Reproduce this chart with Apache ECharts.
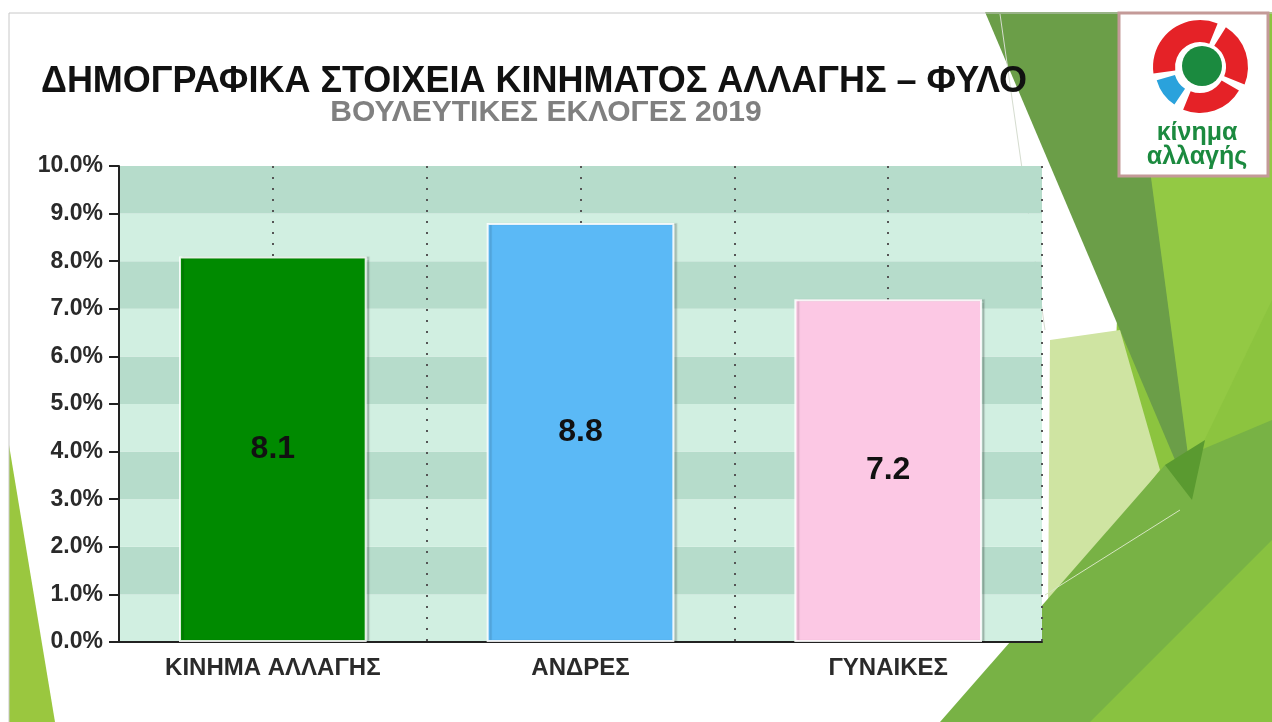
<!DOCTYPE html>
<html>
<head>
<meta charset="utf-8">
<script src="https://cdn.jsdelivr.net/npm/echarts@6/dist/echarts.min.js"></script>
<style>
  html, body { margin: 0; padding: 0; background: #fff; }
  #main { width: 1272px; height: 722px; }
</style>
</head>
<body>
<div id="main"></div>
<script>
var categories = ['ΚΙΝΗΜΑ ΑΛΛΑΓΗΣ', 'ΑΝΔΡΕΣ', 'ΓΥΝΑΙΚΕΣ'];
var values = [8.1, 8.8, 7.2];
var barColors = ['#008a00', '#5bb9f6', '#fcc8e4'];

var titleText = 'ΔΗΜΟΓΡΑΦΙΚΑ ΣΤΟΙΧΕΙΑ ΚΙΝΗΜΑΤΟΣ ΑΛΛΑΓΗΣ – ΦΥΛΟ';
var subtitleText = 'ΒΟΥΛΕΥΤΙΚΕΣ ΕΚΛΟΓΕΣ 2019';

var font = "'Liberation Sans', Arial, sans-serif";
var myChart = echarts.init(document.getElementById('main'));

var deg = Math.PI / 180;

// slide decoration: green triangles, frame and party logo
var deco = [
    { type: 'polygon', z: -5, shape: { points: [[1130, 12], [1272, 12], [1272, 722], [1100, 722]] }, style: { fill: '#8cc43f' } },
    { type: 'polygon', z: -4, shape: { points: [[985, 12], [1165, 12], [1192, 500]] }, style: { fill: '#6b9e48' } },
    { type: 'polygon', z: -4, shape: { points: [[1150, 170], [1272, 120], [1272, 300], [1190, 470]] }, style: { fill: '#93c944' } },
    { type: 'polygon', z: -3, shape: { points: [[1050, 340], [1120, 330], [1160, 470], [1048, 612]] }, style: { fill: '#cfe4a2' } },
    { type: 'polygon', z: -2, shape: { points: [[940, 722], [1165, 465], [1272, 420], [1272, 722]] }, style: { fill: '#78b245' } },
    { type: 'polygon', z: -2, shape: { points: [[1165, 465], [1192, 500], [1205, 440]] }, style: { fill: '#5a9a30' } },
    { type: 'polygon', z: -1, shape: { points: [[1090, 722], [1272, 540], [1272, 722]] }, style: { fill: '#8cc43f', opacity: 0.85 } },
    { type: 'polygon', z: -1, shape: { points: [[9, 445], [9, 722], [55, 722]] }, style: { fill: '#9ac73f' } },
    { type: 'line', z: -1, shape: { x1: 1000, y1: 14, x2: 1045, y2: 330 }, style: { stroke: '#d5dccf', lineWidth: 1 } },
    { type: 'line', z: -1, shape: { x1: 1045, y1: 595, x2: 1180, y2: 510 }, style: { stroke: '#d6e6c0', lineWidth: 1 } },
    { type: 'rect', z: -1, shape: { x: 9, y: 13, width: 1270, height: 720 }, style: { fill: null, stroke: '#c8c8c8', lineWidth: 1 } },

    { type: 'rect', z: 20, shape: { x: 1119, y: 13, width: 149, height: 163 }, style: { fill: '#fff', stroke: '#c49a98', lineWidth: 3 } },
    { type: 'sector', z: 21, shape: { cx: 1200, cy: 67, r0: 25, r: 47, startAngle: 172 * deg, endAngle: 292 * deg }, style: { fill: '#e52227' } },
    { type: 'sector', z: 21, shape: { cx: 1201, cy: 67, r0: 25, r: 47, startAngle: 302 * deg, endAngle: 382 * deg }, style: { fill: '#e52227' } },
    { type: 'sector', z: 21, shape: { cx: 1200, cy: 68, r0: 25, r: 45, startAngle: 30 * deg, endAngle: 112 * deg }, style: { fill: '#e52227' } },
    { type: 'sector', z: 21, shape: { cx: 1199, cy: 68, r0: 25, r: 44, startAngle: 124 * deg, endAngle: 164 * deg }, style: { fill: '#2aa2dc' } },
    { type: 'circle', z: 22, shape: { cx: 1202, cy: 66, r: 20 }, style: { fill: '#1b8a3f' } },
    { type: 'text', z: 22, style: { x: 1197, y: 133, text: 'κίνημα', fill: '#1b8a3f', font: 'bold 25px ' + font, textAlign: 'center', textVerticalAlign: 'middle' } },
    { type: 'text', z: 22, style: { x: 1197, y: 157, text: 'αλλαγής', fill: '#1b8a3f', font: 'bold 25px ' + font, textAlign: 'center', textVerticalAlign: 'middle' } }
];

var option = {
    backgroundColor: '#ffffff',
    textStyle: { fontFamily: font },
    title: [{
        text: titleText,
        left: 36,
        top: 59,
        textStyle: { fontSize: 36, fontWeight: 'bold', color: '#111', fontFamily: font }
    }, {
        text: subtitleText,
        left: 541,
        top: 93,
        textAlign: 'center',
        textStyle: { fontSize: 30, fontWeight: 'bold', color: '#808080', fontFamily: font }
    }],
    graphic: deco,
    grid: { left: 119, right: 230, top: 166, bottom: 80 },
    xAxis: [{
        type: 'category',
        data: categories,
        axisLine: { lineStyle: { color: '#222', width: 2 } },
        axisTick: { alignWithLabel: true, length: 7, lineStyle: { color: '#222', width: 2 } },
        axisLabel: { fontSize: 24, fontWeight: 'bold', color: '#2a2a2a', margin: 14 },
        splitLine: { show: false }
    }, {
        type: 'value',
        min: 0,
        max: 6,
        interval: 1,
        position: 'top',
        axisLine: { show: false },
        axisTick: { show: false },
        axisLabel: { show: false },
        splitLine: { show: true, lineStyle: { type: [2, 9], color: '#555', width: 2 } }
    }],
    yAxis: {
        type: 'value',
        min: 0,
        max: 10,
        interval: 1,
        axisLine: { show: true, lineStyle: { color: '#222', width: 2 } },
        axisTick: { show: true, length: 10, lineStyle: { color: '#222', width: 2 } },
        axisLabel: {
            fontSize: 23,
            fontWeight: 'bold',
            color: '#2a2a2a',
            margin: 16,
            formatter: function (v) { return v.toFixed(1) + '%'; }
        },
        splitLine: { show: false },
        splitArea: { show: true, areaStyle: { color: ['#d1efe1', '#b6dccb'] } }
    },
    series: [{
        type: 'bar',
        data: values.map(function (v, i) {
            return { value: v, itemStyle: { color: barColors[i] } };
        }),
        barCategoryGap: '39%',
        itemStyle: {
            borderColor: 'rgba(255,255,255,0.85)',
            borderWidth: 2,
            shadowColor: 'rgba(0,0,0,0.15)',
            shadowOffsetX: 3,
            shadowBlur: 1
        },
        label: {
            show: true,
            position: 'inside',
            fontSize: 32,
            fontWeight: 'bold',
            color: '#111',
            formatter: function (p) { return p.value.toFixed(1); }
        }
    }]
};

myChart.setOption(option);
</script>
</body>
</html>
